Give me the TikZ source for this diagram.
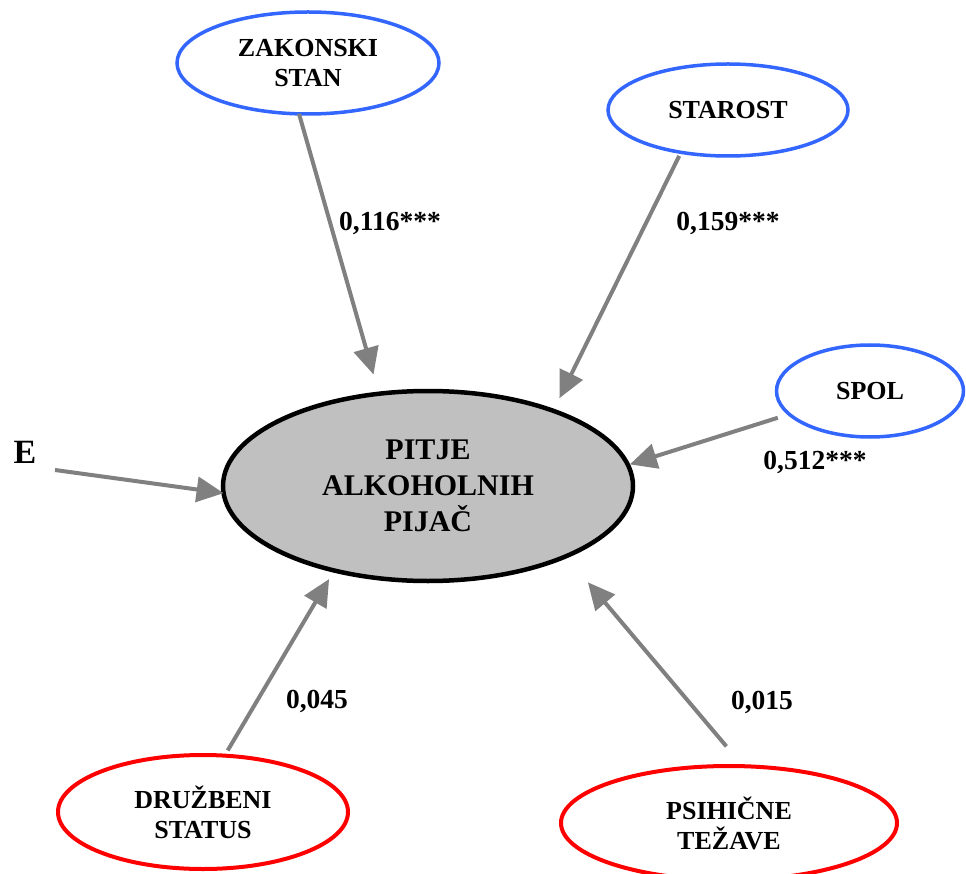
\documentclass[tikz,border=0pt]{standalone}
\usepackage{fontspec}
\setmainfont{Liberation Serif}
\usetikzlibrary{arrows.meta, shapes.geometric}

\definecolor{ovalblue}{RGB}{51,102,255}
\definecolor{ovalred}{RGB}{255,0,0}
\definecolor{arrowgray}{RGB}{128,128,128}
\definecolor{fillgray}{RGB}{192,192,192}

\begin{document}
\begin{tikzpicture}[x=1pt, y=-1pt, >={Triangle[length=27pt,width=25pt]},
    oval/.style={ellipse, inner sep=0pt, outer sep=0pt, align=center,
      font=\fontsize{26}{30}\selectfont\bfseries},
    pred/.style={oval, draw=ovalblue, line width=3.5pt},
    ctrl/.style={oval, draw=ovalred, line width=4pt},
    arr/.style={->, color=arrowgray, line width=4pt},
    coef/.style={font=\fontsize{27.5}{32}\selectfont\bfseries}]
      \useasboundingbox (0,0) rectangle (966,874);
      \clip (0,0) rectangle (966,874);

      \node[oval, draw=black, fill=fillgray, line width=4.5pt, minimum width=410pt,
        minimum height=190pt, font=\fontsize{30}{36}\selectfont\bfseries]
        (pitje) at (428,486) {PITJE\\ALKOHOLNIH\\PIJAČ};

      \node[pred, minimum width=262pt, minimum height=102pt] (zak) at (308,63) {ZAKONSKI\\STAN};
      \node[pred, minimum width=240pt, minimum height=92pt] (star) at (728,110) {STAROST};
      \node[pred, minimum width=187pt, minimum height=92pt] (spol) at (870,391) {SPOL};
      \node[ctrl, minimum width=290pt, minimum height=114pt] (druz) at (203,812) {DRUŽBENI\\STATUS};
      \node[ctrl, minimum width=336pt, minimum height=114pt] (psih) at (729,823) {PSIHIČNE\\TEŽAVE};

      \node[font=\fontsize{34}{40}\selectfont\bfseries] (e) at (25,452) {E};
      \coordinate (e-tail) at (55,470);

      \draw[arr, shorten >=20pt] (zak.260) -- (pitje.118);
      \draw[arr, shorten <=4pt, shorten >=14pt] (star.222) -- (pitje.31);
      \draw[arr, shorten <=12pt, shorten >=2pt] (spol.196) -- (pitje.6);
      \draw[arr] (e-tail) -- (pitje.182);
      \draw[arr, shorten <=6pt, shorten >=10pt] (druz.69) -- (pitje.222);
      \draw[arr, shorten <=26pt, shorten >=34pt] (psih.76) -- (pitje.333);

      \node[coef] (c-zak) at (390,223) {0,116***};
      \node[coef] (c-star) at (728,223) {0,159***};
      \node[coef] (c-spol) at (815,462) {0,512***};
      \node[coef] (c-druz) at (317,701) {0,045};
      \node[coef] (c-psih) at (762,702) {0,015};
  \end{tikzpicture}
\end{document}
